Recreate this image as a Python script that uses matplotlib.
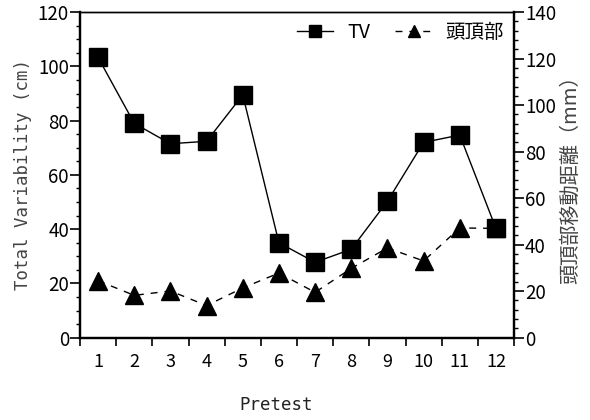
import numpy as np
import matplotlib
matplotlib.use("Agg")
import matplotlib.pyplot as plt
from matplotlib.ticker import MultipleLocator, FixedLocator

plt.rcParams['font.family'] = ['Noto Sans CJK JP', 'DejaVu Sans']

# data
pretest = [1, 2, 3, 4, 5, 6, 7, 8, 9, 10, 11, 12]
tv_cm = [103.3, 79.0, 71.5, 72.4, 89.5, 35.0, 27.8, 32.6, 50.3, 72.0, 74.7, 40.3]
head_mm = [24.5, 18.2, 20.1, 13.8, 21.4, 27.8, 19.5, 29.8, 38.6, 33.0, 47.2, 47.0]
tick_labels = [str(p) for p in pretest]

fig = plt.figure(figsize=(5.9, 4.2), dpi=100)
ax = fig.add_axes([0.1356, 0.196, 0.7356, 0.775])
ax2 = ax.twinx()

l1, = ax.plot(pretest, tv_cm, '-s', color='black', lw=1.0, ms=13,
              label='TV', zorder=3)
l2, = ax2.plot(pretest, head_mm, '--^', color='black', lw=1.0, ms=12.5,
               dashes=(5, 5), label='頭頂部', zorder=2)
ax.set_zorder(ax2.get_zorder() + 1)
ax.patch.set_visible(False)

# x axis: labels at centres, tick marks at bin edges
ax.set_xlim(0.5, 12.5)
ax.xaxis.set_major_locator(FixedLocator(pretest))
ax.set_xticklabels(tick_labels)
ax.xaxis.set_minor_locator(FixedLocator(np.arange(0.5, 13, 1)))
ax.tick_params(axis='x', which='major', length=0, pad=11, labelsize=13)
ax.tick_params(axis='x', which='minor', length=6, width=1.2, direction='out')

ax.set_ylim(0, 120)
ax.yaxis.set_major_locator(MultipleLocator(20))
ax.yaxis.set_minor_locator(MultipleLocator(5))
ax.tick_params(axis='y', which='major', length=7, width=1.2, labelsize=13.5, pad=1)
ax.tick_params(axis='y', which='minor', length=3, width=1.0)

ax2.set_ylim(0, 140)
ax2.yaxis.set_major_locator(MultipleLocator(20))
ax2.yaxis.set_minor_locator(MultipleLocator(4))
ax2.tick_params(axis='y', which='major', length=7, width=1.2, labelsize=13.5, pad=1)
ax2.tick_params(axis='y', which='minor', length=3, width=1.0)

for a in (ax, ax2):
    a.spines['left'].set_linewidth(1.6)
    a.spines['bottom'].set_linewidth(1.6)
    a.spines['right'].set_linewidth(1.6)
    a.spines['top'].set_linewidth(1.0)

ax.set_xlabel('Pretest', family=['DejaVu Sans Mono'], fontsize=12.5, color='#222222')
ax.xaxis.set_label_coords(0.452, -0.18)
ax.set_ylabel('Total Variability (cm)', family=['DejaVu Sans Mono', 'Noto Sans CJK JP'],
              fontsize=12.5, color='#444444', labelpad=4)
ax2.set_ylabel('頭頂部移動距離（mm）', fontsize=14.5, color='#444444',
               rotation=90, labelpad=3)

ax.legend([l1, l2], ['TV', '頭頂部'], loc='upper right', ncol=2, frameon=False,
          fontsize=14, markerscale=0.7, handlelength=1.9, handletextpad=0.7,
          columnspacing=1.3, bbox_to_anchor=(1.0, 1.0), borderaxespad=0.1)

fig.savefig('out.png', dpi=100)
